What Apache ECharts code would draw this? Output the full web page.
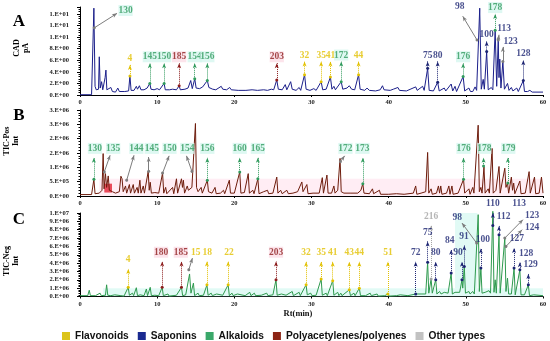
<!DOCTYPE html>
<html><head><meta charset="utf-8">
<script src="https://cdn.jsdelivr.net/npm/echarts@6/dist/echarts.min.js"></script>
<style>html,body{margin:0;padding:0;background:#fff}#c{width:550px;height:341px}</style>
</head><body><div id="c"></div>
<script>
// ---------- DATA ----------
const xTickLabels = ['0','10','20','30','40','50','60'];
const yLabelsA = ['0.E+00','2.E+00','4.E+00','6.E+00','8.E+00','1.E+01','1.E+01','1.E+01'];
const yLabelsB = ['0.E+00','5.E+05','1.E+06','2.E+06','2.E+06','3.E+06','3.E+06'];
const yLabelsC = ['0.E+00','1.E+06','2.E+06','3.E+06','4.E+06','5.E+06','6.E+06','7.E+06','8.E+06','9.E+06','1.E+07'];
const classNames = ['Flavonoids','Saponins','Alkaloids','Polyacetylenes/polyenes','Other types'];

// CAD trace (pA): [time, value]
const traceA = [[0,0.05],[1.5,0.05],[1.65,0.3],[1.8,15.0],[1.95,1.5],[2.1,0.9],[2.4,1.0],[2.5,6.6],[2.62,1.2],[2.8,2.3],[2.95,0.9],[3.15,1.0],[3.25,3.0],[3.36,4.3],[3.48,0.9],[3.7,0.6],[4.0,1.3],[4.2,0.6],[4.6,0.5],[4.9,1.2],[5.1,0.6],[5.8,0.6],[6.3,0.7],[6.47,3.3],[6.62,0.8],[7.0,0.8],[7.3,1.5],[7.45,1.0],[7.7,1.6],[7.9,0.9],[8.3,0.9],[8.7,1.2],[8.9,1.0],[9.05,2.0],[9.2,1.0],[9.6,0.9],[10.0,1.1],[10.3,0.9],[10.9,2.0],[11.05,0.9],[11.6,0.9],[12.0,1.0],[12.5,0.9],[12.85,1.6],[13.0,0.9],[13.6,1.0],[14.0,1.2],[14.35,2.5],[14.55,1.1],[14.87,2.8],[15.05,1.2],[15.5,1.1],[15.9,1.4],[16.1,1.1],[16.5,2.5],[16.7,1.3],[17.2,1.0],[17.6,0.9],[18.3,1.5],[18.5,1.0],[19.0,0.9],[19.4,1.3],[19.6,0.9],[20.5,0.8],[21.5,0.8],[22.3,0.9],[23.0,0.8],[23.8,0.9],[24.3,0.8],[24.8,1.0],[25.1,0.9],[25.5,2.6],[25.7,1.0],[26.2,0.9],[26.6,1.8],[26.8,0.9],[27.3,2.3],[27.5,1.0],[28.0,0.8],[28.4,1.3],[28.6,0.8],[29.1,3.5],[29.3,1.0],[29.8,0.8],[30.3,1.1],[30.6,0.8],[31.25,2.3],[31.45,0.9],[31.9,1.0],[32.45,3.1],[32.65,1.0],[32.9,1.5],[33.1,0.9],[33.85,2.3],[34.05,1.0],[34.6,1.2],[34.9,1.6],[35.2,1.0],[35.6,0.9],[36.1,3.5],[36.3,1.0],[36.9,0.8],[37.2,1.2],[37.5,0.8],[38.3,0.7],[38.9,0.9],[39.2,1.6],[39.4,0.9],[40.2,0.8],[40.6,1.0],[41.2,1.3],[41.4,0.8],[42.3,0.7],[43.5,1.4],[43.7,0.8],[44.4,1.5],[44.6,0.8],[45.05,4.6],[45.25,0.8],[45.8,0.7],[46.35,2.2],[46.55,0.7],[47.2,1.2],[47.4,0.7],[48.1,1.9],[48.3,0.7],[48.6,1.5],[48.8,0.6],[49.65,3.2],[49.85,0.7],[50.4,1.2],[50.6,0.6],[50.9,0.6],[51.2,1.4],[51.4,0.8],[51.8,15.0],[52.0,1.0],[52.25,2.7],[52.4,1.0],[52.7,7.5],[52.9,0.9],[53.3,1.3],[53.5,0.9],[53.8,11.2],[54.0,1.5],[54.2,9.5],[54.3,3.0],[54.4,6.2],[54.55,1.2],[54.8,5.8],[55.0,1.0],[55.4,2.0],[55.6,0.8],[55.9,1.3],[56.1,0.7],[56.6,1.2],[56.8,0.6],[57.45,2.5],[57.6,0.6],[58.0,0.6],[58.3,0.8],[58.6,0.5],[60,0.5]];

// TIC positive trace (millions)
const traceB = [[0,0.05],[1.5,0.05],[1.8,0.58],[1.95,0.08],[2.5,0.1],[2.85,0.2],[3.0,1.48],[3.12,0.25],[3.3,0.78],[3.45,0.3],[3.66,0.7],[3.8,0.2],[4.2,0.15],[4.6,0.1],[5.1,0.15],[5.3,0.69],[5.45,0.6],[5.6,0.15],[5.9,0.35],[6.05,0.1],[6.4,0.4],[6.55,0.1],[6.9,0.4],[7.05,0.1],[7.4,0.3],[7.55,0.1],[7.76,0.55],[7.9,0.1],[8.2,0.35],[8.35,0.1],[8.84,0.86],[8.97,0.2],[9.1,0.48],[9.25,0.1],[9.7,0.12],[10.2,0.1],[10.7,0.8],[10.85,0.1],[11.1,0.3],[11.25,0.08],[12.0,0.3],[12.15,0.08],[12.5,0.6],[12.65,0.1],[13.15,0.6],[13.28,0.3],[13.4,0.55],[13.55,0.1],[13.9,0.35],[14.05,0.2],[14.5,0.3],[14.6,0.3],[14.96,2.53],[15.1,0.3],[15.3,0.15],[15.7,0.3],[15.85,0.1],[16.5,0.55],[16.65,0.15],[17.1,0.1],[17.5,0.3],[17.65,0.08],[18.2,0.1],[18.6,0.2],[18.75,0.08],[19.35,0.55],[19.5,0.1],[20.0,0.1],[20.7,0.84],[20.85,0.1],[21.3,0.12],[21.8,0.78],[21.95,0.1],[22.4,0.2],[22.55,0.08],[23.05,0.6],[23.2,0.08],[23.8,0.15],[24.3,0.2],[24.45,0.08],[25.0,0.1],[25.5,0.66],[25.65,0.1],[26.0,0.2],[26.2,0.08],[26.8,0.2],[27.0,0.08],[27.6,0.1],[28.2,0.15],[28.75,0.49],[28.9,0.15],[29.4,0.4],[29.55,0.08],[30.2,0.1],[31.0,0.1],[31.4,0.64],[31.55,0.1],[32.0,0.73],[32.15,0.1],[32.6,0.1],[32.9,0.35],[33.05,0.1],[33.4,0.2],[33.7,1.31],[33.85,0.15],[34.2,0.1],[35.0,0.1],[36.0,0.1],[36.4,0.2],[36.65,0.43],[36.8,0.1],[37.5,0.08],[37.9,0.25],[38.05,0.08],[38.8,0.2],[38.95,0.06],[40.0,0.06],[41.0,0.08],[42.0,0.06],[43.2,0.1],[43.5,0.35],[43.65,0.06],[44.2,0.1],[44.8,0.15],[45.05,1.52],[45.2,0.1],[45.5,0.25],[45.65,0.06],[46.2,0.1],[46.45,0.35],[46.6,0.1],[46.75,0.35],[46.9,0.06],[47.5,0.1],[47.8,0.35],[47.95,0.06],[48.2,0.35],[48.35,0.06],[49.0,0.1],[49.7,0.58],[49.85,0.1],[50.4,0.25],[50.55,0.06],[50.9,0.3],[51.05,0.1],[51.6,2.47],[51.75,0.15],[51.95,0.3],[52.1,0.1],[52.35,1.01],[52.5,0.1],[52.9,0.25],[53.05,0.1],[53.4,1.66],[53.55,0.1],[53.9,0.2],[54.3,1.03],[54.45,0.1],[55.05,0.97],[55.2,0.3],[55.4,0.45],[55.55,0.1],[55.9,0.66],[56.05,0.2],[56.2,0.45],[56.35,0.08],[57.0,0.52],[57.15,0.08],[57.7,0.1],[58.2,0.85],[58.35,0.1],[58.9,0.66],[59.05,0.08],[59.5,0.1],[59.8,0.66],[60,0.1]];

// TIC negative trace (millions)
const traceC = [[0,0.1],[1.0,0.1],[1.2,0.75],[1.35,0.1],[2.0,0.1],[2.6,0.4],[2.75,0.1],[3.3,0.15],[3.45,1.4],[3.6,0.15],[4.0,0.1],[4.5,0.2],[4.65,0.05],[5.3,0.1],[5.5,0.25],[5.7,0.05],[6.25,1.1],[6.4,0.15],[6.8,0.4],[6.95,0.1],[7.3,1.05],[7.45,0.1],[7.8,0.2],[8.3,0.1],[8.6,0.9],[8.75,0.1],[9.1,1.1],[9.25,0.1],[9.7,0.15],[10.2,0.1],[10.65,1.1],[10.8,0.1],[11.4,0.3],[11.55,0.05],[12.5,0.15],[13.15,1.1],[13.3,0.1],[13.7,0.2],[14.2,2.7],[14.38,0.4],[14.7,1.6],[14.85,0.1],[15.3,0.4],[15.45,0.1],[16.0,0.15],[16.45,1.4],[16.6,0.15],[17.0,0.4],[17.15,0.1],[17.7,0.3],[17.85,0.1],[18.5,0.15],[19.2,1.4],[19.35,0.1],[19.7,0.4],[19.85,0.1],[20.4,0.3],[20.55,0.1],[21.4,0.1],[22.0,0.5],[22.15,0.1],[22.6,0.4],[22.75,0.1],[23.5,0.15],[24.2,0.4],[24.35,0.1],[25.0,0.2],[25.4,2.0],[25.55,0.15],[26.1,0.3],[26.25,0.1],[26.7,0.15],[27.5,0.6],[27.65,0.1],[28.4,0.5],[28.55,0.1],[29.3,1.4],[29.45,0.2],[29.9,0.4],[30.05,0.1],[30.6,0.15],[31.25,2.1],[31.4,0.15],[31.9,0.4],[32.05,0.1],[32.75,1.9],[32.9,0.15],[33.4,0.5],[33.55,0.1],[33.8,0.4],[33.95,0.1],[34.9,0.8],[35.05,0.1],[35.5,0.4],[35.65,0.1],[36.2,1.0],[36.35,0.1],[37.0,0.1],[37.6,0.4],[37.75,0.1],[38.5,0.3],[38.65,0.05],[39.5,0.1],[39.9,0.3],[40.05,0.05],[41.0,0.1],[41.5,0.2],[41.65,0.05],[42.5,0.1],[43.5,0.3],[43.65,0.1],[44.2,0.3],[44.35,0.1],[44.8,0.3],[45.05,4.1],[45.2,0.4],[45.5,2.1],[45.65,0.4],[46.1,2.0],[46.25,0.3],[46.6,0.6],[46.8,0.3],[47.2,0.5],[47.4,0.3],[47.7,0.4],[48.1,2.8],[48.25,0.3],[48.6,0.5],[48.8,0.3],[49.2,0.5],[49.5,2.0],[49.6,1.0],[49.8,3.6],[49.95,0.4],[50.4,0.6],[50.55,0.3],[50.9,0.6],[51.1,0.3],[51.6,9.8],[51.75,0.6],[51.95,3.4],[52.1,0.4],[52.5,0.5],[52.7,0.3],[53.0,0.7],[53.2,0.4],[53.5,10.2],[53.65,0.5],[53.8,2.0],[53.95,0.4],[54.3,7.4],[54.45,0.4],[54.7,0.4],[55.05,7.0],[55.2,0.6],[55.4,2.2],[55.55,0.3],[55.9,0.3],[56.25,3.4],[56.4,0.2],[56.6,0.2],[57.0,3.2],[57.15,0.2],[57.6,0.2],[58.1,1.4],[58.25,0.1],[58.8,0.2],[59.0,0.1],[60,0.1]];

// annotations: [label, class, tLabel, vLabel, tPeak, vPeak, (tTip, vTip)]
const annA = [['130','A',5.9,14.6,1.85,11.6,4.8,14.1],['4','F',6.47,6.3,6.47,3.3],['145','A',9.05,6.6,9.05,2.0],['150','A',10.9,6.6,10.9,2.0],['185','P',12.85,6.6,12.85,1.6],['154','A',14.87,6.6,14.87,2.8],['156','A',16.5,6.6,16.5,2.5],['203','P',25.5,6.6,25.5,2.6],['32','F',29.1,6.9,29.1,3.5],['35','F',31.25,6.9,31.25,2.3],['41','F',32.45,6.9,32.45,3.1],['172','A',33.85,6.9,33.85,2.3],['44','F',36.1,6.9,36.1,3.5],['75','S',45.05,6.9,45.05,4.6],['80','S',46.35,6.9,46.35,2.2],['176','A',49.65,6.6,49.65,3.2],['98','S',49.2,15.2,51.45,9.5,49.6,13.6],['100','S',52.7,10.4,52.7,7.5],['178','A',53.8,15.1,53.8,11.2],['113','S',54.95,11.4,54.2,9.5,54.3,10.4],['123','S',55.8,9.3,54.8,5.8,54.8,8.3],['128','S',57.45,7.1,57.45,2.5]];
const annB = [['130','A',1.94,1.66,1.8,0.58],['135','A',4.3,1.66,3.15,0.84,3.9,1.42],['144','A',7.3,1.66,6.05,0.55,7.0,1.42],['145','A',9.3,1.66,8.9,0.86,8.9,1.36],['150','A',11.6,1.66,10.7,0.8,11.55,1.4],['154','A',13.9,1.66,14.5,0.86,13.8,1.4],['156','A',16.5,1.66,16.5,0.55],['160','A',20.7,1.66,20.7,0.84],['165','A',23.05,1.66,23.05,0.6],['172','A',34.4,1.66,33.75,1.2,34.3,1.4],['173','A',36.6,1.66,36.65,0.43],['176','A',49.7,1.66,49.7,0.58],['178','A',52.4,1.66,52.3,1.05],['179','A',55.5,1.66,55.45,0.45]];
const annC = [['4','F',6.25,4.4,6.25,1.1],['180','P',10.5,5.3,10.65,1.1],['185','P',13.06,5.3,13.15,1.1],['15','F',15.0,5.3,14.1,3.2,14.57,4.6],['18','F',16.5,5.3,16.45,1.4],['22','F',19.3,5.3,19.2,1.4],['203','P',25.4,5.3,25.4,2.0],['32','F',29.3,5.25,29.3,1.4],['35','F',31.25,5.25,31.25,2.1],['41','F',32.75,5.25,32.75,1.9],['43','F',34.9,5.25,34.9,0.8],['44','F',36.2,5.25,36.2,1.0],['51','F',39.9,5.25,39.9,0.3],['72','S',43.5,5.25,43.5,0.3],['75','S',45.05,7.7,45.05,4.1],['80','S',46.1,5.25,46.1,2.0],['84','S',47.9,6.7,48.1,2.8],['90','S',49.0,5.25,49.5,2.0],['91','S',49.75,7.2,49.8,3.6],['216','O',45.5,9.6,45.5,2.1],['98','S',48.9,9.4,51.4,6.4,49.5,8.8],['100','S',52.2,6.85,51.95,3.4],['110','S',53.5,11.1,53.5,8.5],['113','S',56.9,11.1,54.3,7.6,56.35,10.4],['112','S',54.9,9.55,54.3,7.4],['123','S',58.6,9.65,55.05,7.0,57.4,9.2],['124','S',58.6,8.2,55.2,6.0,57.3,8.0],['127','S',56.6,6.9,56.25,3.4],['128','S',57.8,5.2,57.0,3.2],['129','S',58.4,3.8,58.1,1.4]];

// ---------- STYLE ----------
const classColor = {F:'#e2c100', S:'#1c2472', A:'#2f9a5c', P:'#8c1c1c', O:'#a3a3a3'};
const legendColor = ['#dcc41c','#1a2a90','#3aa86a','#8c2414','#c2c2c2'];
const classBg = {A:'#d6f6ef', P:'#fbdde6'};
const serif = "'Liberation Serif','Times New Roman',serif";

function labelSeries(ann, idx){
  return {type:'scatter', xAxisIndex:idx, yAxisIndex:idx, symbolSize:0, clip:false, silent:true, z:5,
    data: ann.map(a => ({name:a[0], value:[a[2],a[3]],
      label:{color:classColor[a[1]], backgroundColor: classBg[a[1]] || 'transparent'}})),
    label:{show:true, position:'inside', formatter:'{b}', fontFamily:serif, fontSize:9.5, fontWeight:'bold', padding:[1,0,0,0]}
  };
}
function arrowLines(ann, d){
  return ann.map(a => {
    const diag = a.length > 6;
    const tip = diag ? [a[6],a[7]] : [a[4], a[3]-d];
    const col = diag ? '#7d7d7d' : classColor[a[1]];
    return [{coord:[a[4],a[5]], lineStyle:{color:col, type: diag ? 'solid' : 'dotted', width:1}, itemStyle:{color:col}}, {coord:tip}];
  });
}
function traceSeries(data, idx, color, ann, d, areas){
  return {type:'line', xAxisIndex:idx, yAxisIndex:idx, data:data, showSymbol:false, clip:false,
    lineStyle:{color:color, width:1}, itemStyle:{color:color}, z:3,
    markLine:{silent:true, symbol:['circle','arrow'], symbolSize:[3,5], label:{show:false}, animation:false, data:arrowLines(ann,d)},
    markArea:{silent:true, data:areas}
  };
}
function yAxisCfg(idx, max, interval, labels){
  return {type:'value', gridIndex:idx, min:0, max:max, interval:interval,
    axisLine:{show:true, lineStyle:{color:'#000', width:1}},
    axisTick:{show:true, length:3, lineStyle:{color:'#000'}},
    minorTick:{show:true, splitNumber:5, length:1.5, lineStyle:{color:'#000'}},
    splitLine:{show:false},
    axisLabel:{margin:11, fontFamily:serif, fontWeight:'bold', fontSize:6.5, color:'#222',
      formatter: v => { const i = Math.round(v/interval); return Math.abs(i*interval - v) < 1e-6 && labels[i] ? labels[i] : ''; }}
  };
}
function xAxisCfg(idx){
  return {type:'value', gridIndex:idx, min:0, max:60, interval:10,
    axisLine:{show:true, lineStyle:{color:'#000', width:1}},
    axisTick:{show:true, length:2, lineStyle:{color:'#000'}},
    splitLine:{show:false},
    axisLabel:{margin:4, fontFamily:serif, fontWeight:'bold', fontSize:6.5, color:'#222',
      formatter: v => xTickLabels[Math.round(v/10)]}
  };
}

const areasB = [
  [{xAxis:2.5, yAxis:0, itemStyle:{color:'rgba(255,190,215,0.28)'}}, {xAxis:60, yAxis:0.6}],
  [{xAxis:3.15, yAxis:0.12, itemStyle:{color:'rgba(225,20,40,0.75)'}}, {xAxis:4.15, yAxis:0.43}]
];
const areasC = [
  [{xAxis:3.0, yAxis:0, itemStyle:{color:'rgba(170,240,225,0.35)'}}, {xAxis:60, yAxis:1.0}],
  [{xAxis:48.6, yAxis:1.0, itemStyle:{color:'rgba(170,240,225,0.35)'}}, {xAxis:51.5, yAxis:10}]
];

const legendSeries = classNames.map((n,i) => ({name:n, type:'scatter', data:[], itemStyle:{color:legendColor[i], opacity:1}}));

const chart = echarts.init(document.getElementById('c'), null, {renderer:'canvas'});
chart.setOption({
  animation:false,
  backgroundColor:'#fff',
  grid:[
    {left:80, right:7, top:7, height:88},
    {left:80, right:7, top:110, height:86},
    {left:80, right:7, top:213, height:83.5}
  ],
  xAxis:[xAxisCfg(0), xAxisCfg(1), xAxisCfg(2)],
  yAxis:[yAxisCfg(0,15.2,2,yLabelsA), yAxisCfg(1,3.0,0.5,yLabelsB), yAxisCfg(2,10,1,yLabelsC)],
  legend:{data:classNames.map(n => ({name:n, itemStyle:{opacity:1}})), left:57, top:326, icon:'rect', itemWidth:8, itemHeight:8, itemGap:9,
    textStyle:{fontFamily:"'Liberation Sans',Arial,sans-serif", fontWeight:'bold', fontSize:10.2, color:'#111'}},
  graphic:[
    {type:'text', x:19, y:22, style:{text:'A', font:"bold 17px 'Liberation Serif'", fill:'#000', align:'center', verticalAlign:'middle', textAlign:'center', textVerticalAlign:'middle'}},
    {type:'text', x:19, y:116, style:{text:'B', font:"bold 17px 'Liberation Serif'", fill:'#000', align:'center', verticalAlign:'middle', textAlign:'center', textVerticalAlign:'middle'}},
    {type:'text', x:19, y:220, style:{text:'C', font:"bold 17px 'Liberation Serif'", fill:'#000', align:'center', verticalAlign:'middle', textAlign:'center', textVerticalAlign:'middle'}},
    {type:'text', x:21, y:48, rotation:Math.PI/2, style:{text:'CAD\npA', font:"bold 8px 'Liberation Serif'", fill:'#000', align:'center', verticalAlign:'middle', textAlign:'center', textVerticalAlign:'middle', lineHeight:9}},
    {type:'text', x:11, y:141, rotation:Math.PI/2, style:{text:'TIC-Pos\nInt', font:"bold 8px 'Liberation Serif'", fill:'#000', align:'center', verticalAlign:'middle', textAlign:'center', textVerticalAlign:'middle', lineHeight:9}},
    {type:'text', x:11, y:261, rotation:Math.PI/2, style:{text:'TIC-Neg\nInt', font:"bold 8px 'Liberation Serif'", fill:'#000', align:'center', verticalAlign:'middle', textAlign:'center', textVerticalAlign:'middle', lineHeight:9}},
    {type:'text', x:298, y:314, style:{text:'Rt(min)', font:"bold 8.5px 'Liberation Serif'", fill:'#111', align:'center', verticalAlign:'middle', textAlign:'center', textVerticalAlign:'middle'}}
  ],
  series:[
    traceSeries(traceA, 0, '#1b1f8a', annA, 1.1, []),
    traceSeries(traceB, 1, '#6e1c0c', annB, 0.33, areasB),
    traceSeries(traceC, 2, '#2e9a4e', annC, 1.1, areasC),
    labelSeries(annA, 0), labelSeries(annB, 1), labelSeries(annC, 2)
  ].concat(legendSeries)
});
</script></body></html>
